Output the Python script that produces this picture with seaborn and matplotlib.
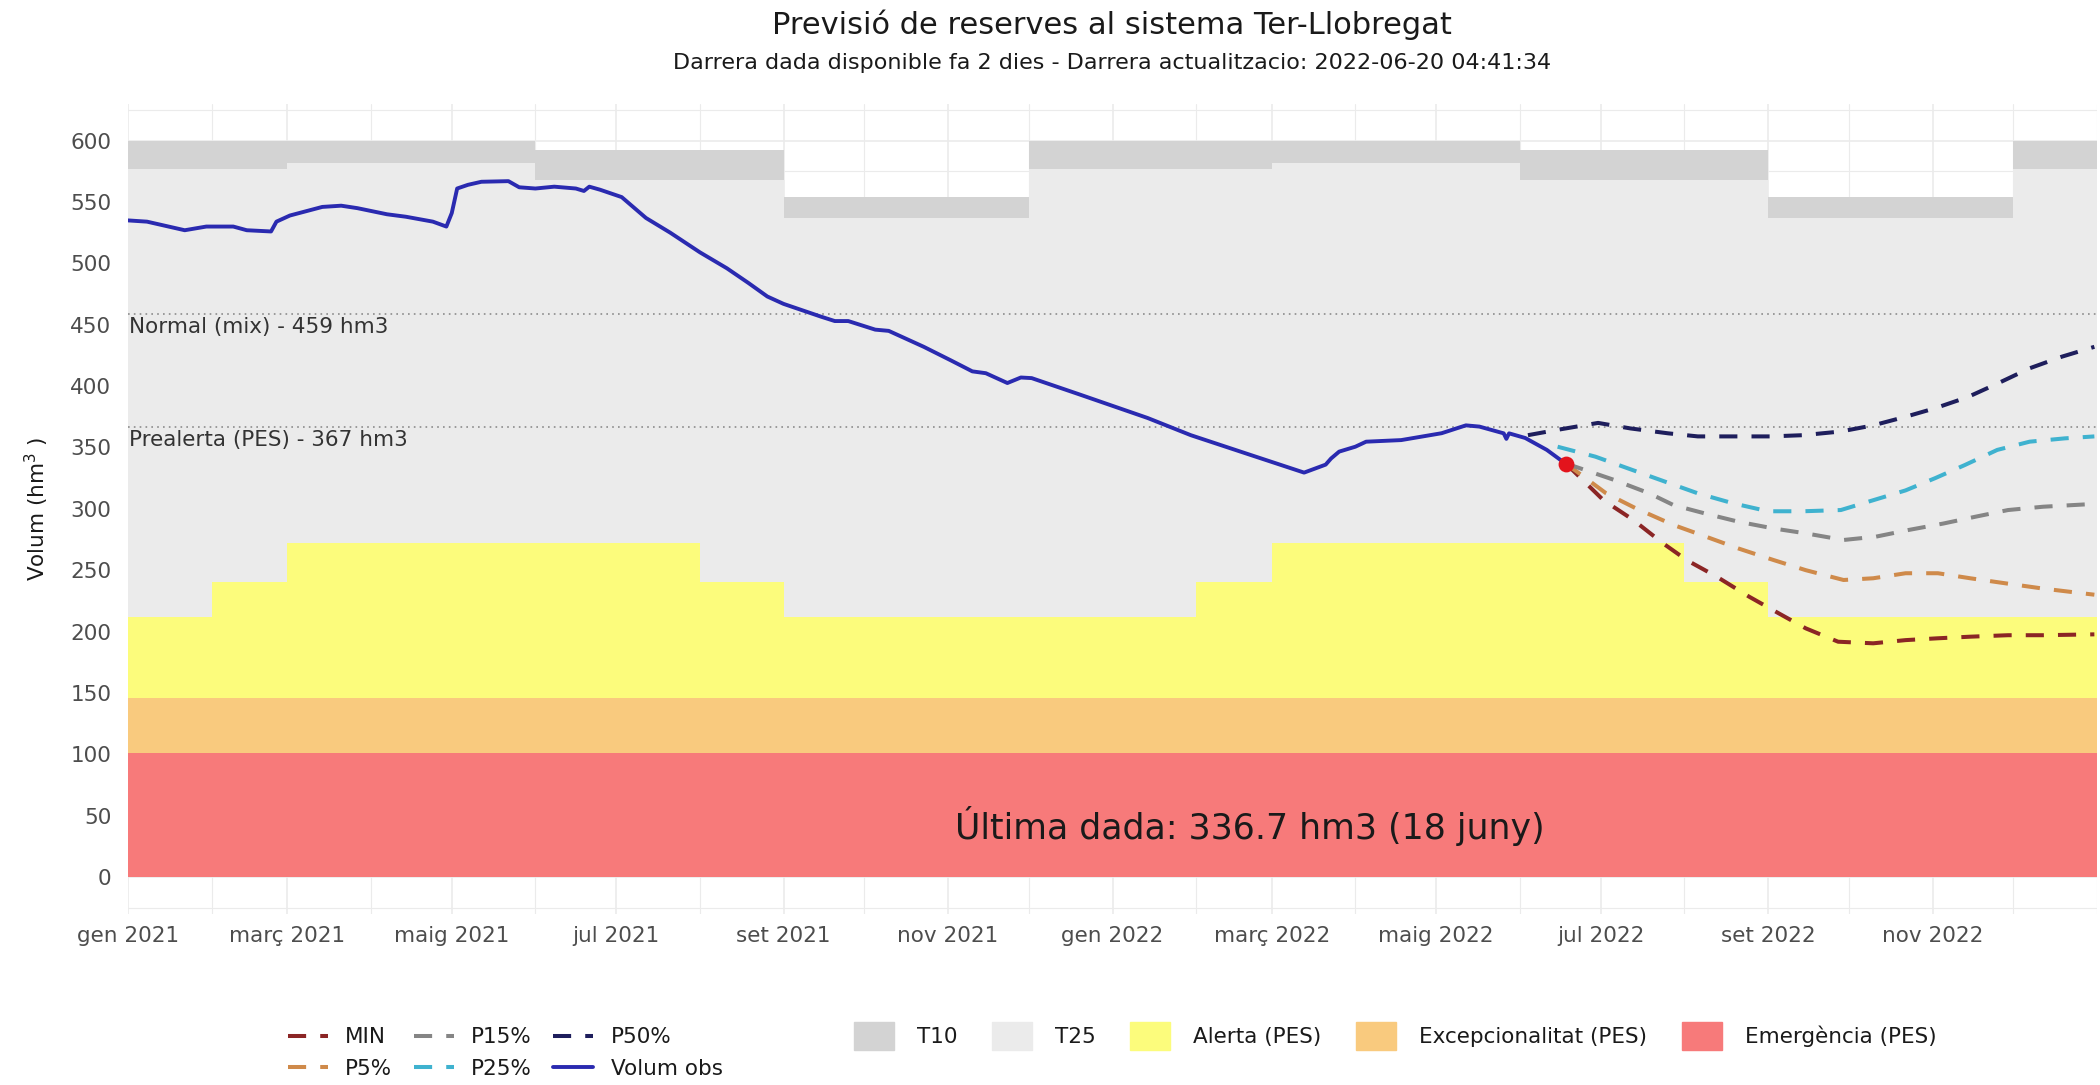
import pandas as pd
import matplotlib
matplotlib.use('Agg')
import matplotlib.pyplot as plt
import matplotlib.dates as mdates
from matplotlib.lines import Line2D
from matplotlib.patches import Patch
import seaborn as sns

# %%
# llindars estacionals T25 / T10
llindar_dates = ['2021-01-01', '2021-03-01', '2021-06-01', '2021-09-01', '2021-12-01',
                 '2022-03-01', '2022-06-01', '2022-09-01', '2022-12-01', '2023-01-01']
t25 = [577, 582, 568, 537, 577, 582, 568, 537, 577, 577]
t10 = [600, 600, 592, 554, 600, 600, 592, 554, 600, 600]

# llindar d'alerta (PES) per mesos
alerta_dates = ['2021-01-01', '2021-02-01', '2021-03-01', '2021-08-01', '2021-09-01',
                '2022-02-01', '2022-03-01', '2022-08-01', '2022-09-01', '2023-01-01']
alerta = [212, 240, 272, 240, 212, 240, 272, 240, 212, 212]
excepcionalitat = 146
emergencia = 101
normal = 459
prealerta = 367

# volum observat
obs_dates = ['2021-01-01', '2021-01-08', '2021-01-22', '2021-01-30', '2021-02-09', '2021-02-14',
             '2021-02-23', '2021-02-25', '2021-03-02', '2021-03-14', '2021-03-21', '2021-03-27',
             '2021-04-07', '2021-04-14', '2021-04-24', '2021-04-29', '2021-05-01', '2021-05-03',
             '2021-05-07', '2021-05-12', '2021-05-22', '2021-05-26', '2021-06-01', '2021-06-08',
             '2021-06-16', '2021-06-19', '2021-06-21', '2021-06-25', '2021-07-03', '2021-07-12',
             '2021-07-21', '2021-08-01', '2021-08-11', '2021-08-19', '2021-08-26', '2021-09-01',
             '2021-09-15', '2021-09-20', '2021-09-25', '2021-10-05', '2021-10-10', '2021-10-23',
             '2021-11-02', '2021-11-10', '2021-11-15', '2021-11-23', '2021-11-28', '2021-12-02',
             '2021-12-20', '2022-01-14', '2022-01-30', '2022-02-21', '2022-03-13', '2022-03-21',
             '2022-03-23', '2022-03-26', '2022-04-01', '2022-04-05', '2022-04-18', '2022-05-03',
             '2022-05-12', '2022-05-17', '2022-05-26', '2022-05-27', '2022-05-28', '2022-06-03',
             '2022-06-11', '2022-06-18']
obs_vals = [535, 534, 527, 530, 530, 527,
            526, 534, 539, 546, 547, 545,
            540, 538, 534, 530, 541, 561,
            564, 566.5, 567, 562, 561, 562.5,
            561, 559, 562.5, 560, 554, 537,
            525, 509, 496, 484, 473, 467,
            456.5, 453, 453, 446, 445, 432,
            421, 412, 410.5, 402.5, 407, 406.5,
            393, 374, 360, 344, 329.5, 336,
            341, 346.6, 350.6, 354.7, 356, 361.6,
            368, 367, 361.5, 357, 361.5, 357.7,
            348, 336.7]

# previsions
min_dates = ['2022-06-18', '2022-07-02', '2022-07-13', '2022-07-24', '2022-08-02', '2022-08-13',
             '2022-08-25', '2022-09-05', '2022-09-15', '2022-09-27', '2022-10-10', '2022-10-22',
             '2022-11-03', '2022-11-15', '2022-11-29', '2022-12-12', '2022-12-31']
min_vals = [337, 307, 291, 272, 258, 244.7, 228.4, 214.8, 202.6, 191.7, 190.4, 193,
            194.5, 195.8, 197, 197, 197.7]

p5_dates = ['2022-06-18', '2022-07-03', '2022-07-14', '2022-07-28', '2022-08-09', '2022-08-21',
            '2022-09-03', '2022-09-15', '2022-09-29', '2022-10-10', '2022-10-22', '2022-11-03',
            '2022-11-15', '2022-11-28', '2022-12-12', '2022-12-31']
p5_vals = [337, 312.6, 300.4, 286.8, 277.3, 267.7, 258.3, 250, 242, 243.4, 247.5, 247.5,
           243.4, 239.3, 235, 230]

p15_dates = ['2022-06-18', '2022-07-06', '2022-07-19', '2022-07-28', '2022-08-09', '2022-08-21',
             '2022-09-03', '2022-09-15', '2022-09-29', '2022-10-11', '2022-10-23', '2022-11-05',
             '2022-11-17', '2022-11-29', '2022-12-12', '2022-12-31']
p15_vals = [337, 323.5, 312.6, 303, 296, 289.5, 284, 280, 274.6, 277.3, 282.7, 288,
            293.6, 299, 301.7, 304]

p25_dates = ['2022-06-15', '2022-06-29', '2022-07-11', '2022-07-25', '2022-08-06', '2022-08-19',
             '2022-09-01', '2022-09-14', '2022-09-28', '2022-10-10', '2022-10-22', '2022-11-02',
             '2022-11-13', '2022-11-25', '2022-12-07', '2022-12-20', '2022-12-31']
p25_vals = [350.6, 342.5, 333, 322, 312.6, 304.5, 298, 298, 299, 307, 315, 325,
            335.7, 348, 354.7, 357.4, 359]

p50_dates = ['2022-06-04', '2022-06-14', '2022-06-30', '2022-07-12', '2022-07-26', '2022-08-06',
             '2022-08-20', '2022-09-02', '2022-09-14', '2022-09-28', '2022-10-10', '2022-10-22',
             '2022-11-02', '2022-11-14', '2022-11-25', '2022-12-07', '2022-12-19', '2022-12-31']
p50_vals = [360, 364, 370, 365.5, 361.5, 359, 359, 359, 360, 363, 368, 375,
            382, 391, 402, 414.5, 424, 432]

ultima_data = '2022-06-18'
ultima_val = 336.7

mesos = ['gen 2021', 'març 2021', 'maig 2021', 'jul 2021', 'set 2021', 'nov 2021',
         'gen 2022', 'març 2022', 'maig 2022', 'jul 2022', 'set 2022', 'nov 2022']

# %%
colors = {'MIN': '#8b2525', 'P5%': '#cf8a4a', 'P15%': '#858585',
          'P25%': '#3fb2cf', 'P50%': '#1e1e5c'}

prev = pd.concat([
    pd.DataFrame({'data': pd.to_datetime(d), 'volum': v, 'serie': s})
    for s, d, v in [('MIN', min_dates, min_vals), ('P5%', p5_dates, p5_vals),
                    ('P15%', p15_dates, p15_vals), ('P25%', p25_dates, p25_vals),
                    ('P50%', p50_dates, p50_vals)]
], ignore_index=True)
obs = pd.DataFrame({'data': pd.to_datetime(obs_dates), 'volum': obs_vals})

sns.set_style('white')
plt.rcParams['font.family'] = ['DejaVu Sans']

fig = plt.figure(figsize=(21, 10.85), dpi=100)
ax = fig.add_axes([0.0610, 0.1578, 0.9376, 0.7465])

xl = pd.to_datetime(llindar_dates)
xa = pd.to_datetime(alerta_dates)

# bandes de fons
ax.fill_between(xl, 0, t25, step='post', color='#ebebeb', lw=0, zorder=1)
ax.fill_between(xl, t25, t10, step='post', color='#d3d3d3', lw=0, zorder=1)
ax.fill_between(xa, excepcionalitat, alerta, step='post', color='#fcfc7c', lw=0, zorder=1)
ax.fill_between(xa, emergencia, excepcionalitat, step='post', color='#f9ca7e', lw=0, zorder=1)
ax.fill_between(xa, 0, emergencia, step='post', color='#f77a7a', lw=0, zorder=1)

# llindars normal / prealerta
for nivell in [normal, prealerta]:
    ax.axhline(nivell, color='#8c8c8c', lw=1.2, linestyle=(0, (1, 2.5)), zorder=2)
x0 = mdates.date2num(pd.Timestamp('2021-01-01'))
ax.text(x0 + 0.5, normal - 3, 'Normal (mix) - 459 hm3', ha='left', va='top',
        fontsize=15.5, color='#333333', zorder=5)
ax.text(x0 + 0.5, prealerta - 3, 'Prealerta (PES) - 367 hm3', ha='left', va='top',
        fontsize=15.5, color='#333333', zorder=5)

# previsions i volum observat
sns.lineplot(data=prev, x='data', y='volum', hue='serie', style='serie',
             palette=colors, dashes={k: (4.5, 3.5) for k in colors},
             linewidth=2.9, errorbar=None, legend=False, ax=ax, zorder=3)
sns.lineplot(data=obs, x='data', y='volum', color='#2a2ab0', linewidth=2.8,
             errorbar=None, ax=ax, zorder=4)
ax.scatter([pd.Timestamp(ultima_data)], [ultima_val], s=130, color='#e3141c',
           zorder=5, linewidths=0)

ax.text(mdates.date2num(pd.Timestamp('2022-02-21')), 41.5,
        'Última dada: 336.7 hm3 (18 juny)', ha='center', va='center',
        fontsize=25, color='#1a1a1a', zorder=6)

# eixos
ax.set_xlim(pd.Timestamp('2021-01-01'), pd.Timestamp('2023-01-01'))
ax.set_ylim(-30, 630)
ax.set_xticks(pd.date_range('2021-01-01', '2022-11-01', freq='2MS'))
ax.set_xticklabels(mesos)
ax.set_xticks(pd.date_range('2021-01-01', '2023-01-01', freq='MS'), minor=True)
ax.set_yticks(list(range(0, 601, 50)))
ax.set_yticks(list(range(-25, 630, 50)), minor=True)
ax.tick_params(axis='both', which='both', length=0, labelsize=15.5, labelcolor='#4d4d4d')
ax.tick_params(axis='x', pad=9)
ax.tick_params(axis='y', pad=12)
ax.grid(which='major', color='#ebebeb', lw=1.2)
ax.grid(which='minor', color='#ebebeb', lw=0.8)
ax.set_axisbelow(True)
sns.despine(ax=ax, left=True, bottom=True)
ax.set_xlabel('')
ax.set_ylabel('Volum (hm$^{3}$ )', fontsize=15.5, color='#1a1a1a')
ax.yaxis.set_label_coords(-0.039, 0.5)

# títols
fig.text(0.5296, 0.977, 'Previsió de reserves al sistema Ter-Llobregat',
         ha='center', va='center', fontsize=22, color='#1a1a1a')
fig.text(0.5296, 0.942,
         'Darrera dada disponible fa 2 dies - Darrera actualitzacio: 2022-06-20 04:41:34',
         ha='center', va='center', fontsize=16, color='#1a1a1a')

# llegendes
ordre = ['MIN', 'P5%', 'P15%', 'P25%', 'P50%']
h_linies = [Line2D([0], [0], color=colors[k], lw=2.9, dashes=(4.5, 3.5)) for k in ordre]
h_linies.append(Line2D([0], [0], color='#2a2ab0', lw=2.8))
fig.legend(h_linies, ordre + ['Volum obs'], ncol=3, loc='center left',
           bbox_to_anchor=(0.137, 0.0295), frameon=False, fontsize=15.5,
           handlelength=1.86, handletextpad=0.8, columnspacing=1.0,
           labelspacing=0.55, borderpad=0, borderaxespad=0, labelcolor='#1a1a1a')

h_fons = [Patch(color='#d3d3d3'), Patch(color='#ebebeb'), Patch(color='#fcfc7c'),
          Patch(color='#f9ca7e'), Patch(color='#f77a7a')]
fig.legend(h_fons, ['T10', 'T25', 'Alerta (PES)', 'Excepcionalitat (PES)', 'Emergència (PES)'],
           ncol=5, loc='center left', bbox_to_anchor=(0.4067, 0.0452), frameon=False,
           fontsize=15.5, handlelength=1.86, handleheight=1.67, handletextpad=1.07,
           columnspacing=1.6, borderpad=0, borderaxespad=0, labelcolor='#1a1a1a')

fig.savefig('out.png', dpi=100)
